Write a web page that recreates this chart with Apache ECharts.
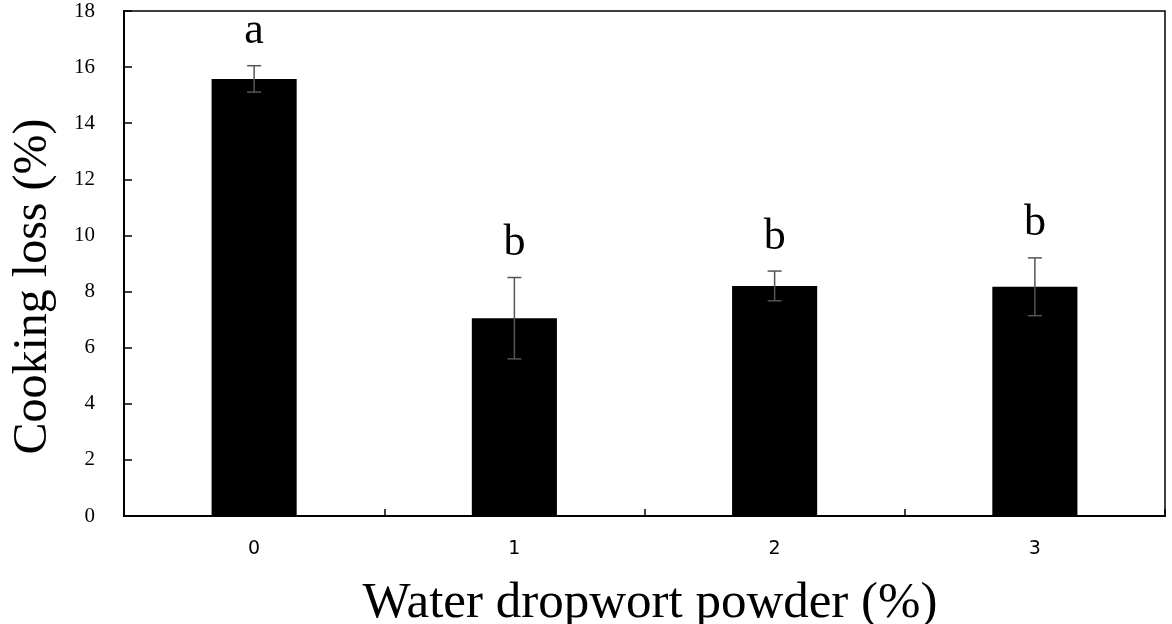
<!DOCTYPE html>
<html>
<head>
<meta charset="utf-8">
<script src="https://cdn.jsdelivr.net/npm/echarts@6/dist/echarts.min.js"></script>
<style>
html,body{margin:0;padding:0;background:#fff;}
#chart{width:1172px;height:624px;}
</style>
</head>
<body>
<div id="chart"></div>
<script>
const categories = ['0', '1', '2', '3'];
const means = [15.58, 7.05, 8.20, 8.17];
const errors = [0.47, 1.45, 0.53, 1.03];
const letters = ['a', 'b', 'b', 'b'];
const yMin = 0, yMax = 18, yStep = 2;

const chart = echarts.init(document.getElementById('chart'));
const errData = means.map((m, i) => [i, m - errors[i], m + errors[i], letters[i]]);

chart.setOption({
  animation: false,
  grid: { left: 124, right: 7, top: 11, bottom: 108, outerBoundsMode: 'none', containLabel: false, show: true, borderColor: '#000', borderWidth: 1.5, backgroundColor: 'transparent' },
  xAxis: {
    type: 'category',
    data: categories,
    name: 'Water dropwort powder (%)',
    nameLocation: 'middle',
    nameGap: 62,
    nameTextStyle: { fontFamily: 'Liberation Serif', fontSize: 51, color: '#000', padding: [0, 0, 0, 11] },
    axisLine: { lineStyle: { color: '#000', width: 2 } },
    axisTick: { show: true, inside: true, length: 7, lineStyle: { color: '#000', width: 1.5 } },
    axisLabel: { margin: 24, fontFamily: 'DejaVu Sans', fontSize: 19, color: '#000' },
    splitLine: { show: false }
  },
  yAxis: {
    type: 'value',
    min: yMin, max: yMax, interval: yStep,
    name: 'Cooking loss (%)',
    nameLocation: 'middle',
    nameGap: 67,
    nameTextStyle: { fontFamily: 'Liberation Serif', fontSize: 48, color: '#000', padding: [0, 46, 0, 0] },
    axisLine: { show: true, lineStyle: { color: '#000', width: 2 } },
    axisTick: { show: true, inside: true, length: 8, lineStyle: { color: '#000', width: 1.5 } },
    axisLabel: { margin: 29, fontFamily: 'Liberation Serif', fontSize: 21, color: '#000' },
    splitLine: { show: false }
  },
  series: [
    {
      type: 'bar',
      data: means,
      barWidth: '32.7%',
      itemStyle: { color: '#000' }
    },
    {
      type: 'custom',
      data: errData,
      z: 10,
      renderItem: function (params, api) {
        const x = api.value(0);
        const lo = api.coord([x, api.value(1)]);
        const hi = api.coord([x, api.value(2)]);
        const hw = 7;
        const st = { stroke: '#555', lineWidth: 1.5 };
        return {
          type: 'group',
          children: [
            { type: 'line', shape: { x1: lo[0], y1: lo[1], x2: hi[0], y2: hi[1] }, style: st },
            { type: 'line', shape: { x1: lo[0] - hw, y1: lo[1], x2: lo[0] + hw, y2: lo[1] }, style: st },
            { type: 'line', shape: { x1: hi[0] - hw, y1: hi[1], x2: hi[0] + hw, y2: hi[1] }, style: st },
            { type: 'text', style: { text: api.value(3), x: hi[0], y: hi[1] - 34, align: 'center', verticalAlign: 'middle', font: '44px "Liberation Serif"', fill: '#000' } }
          ]
        };
      }
    }
  ]
});
</script>
</body>
</html>
